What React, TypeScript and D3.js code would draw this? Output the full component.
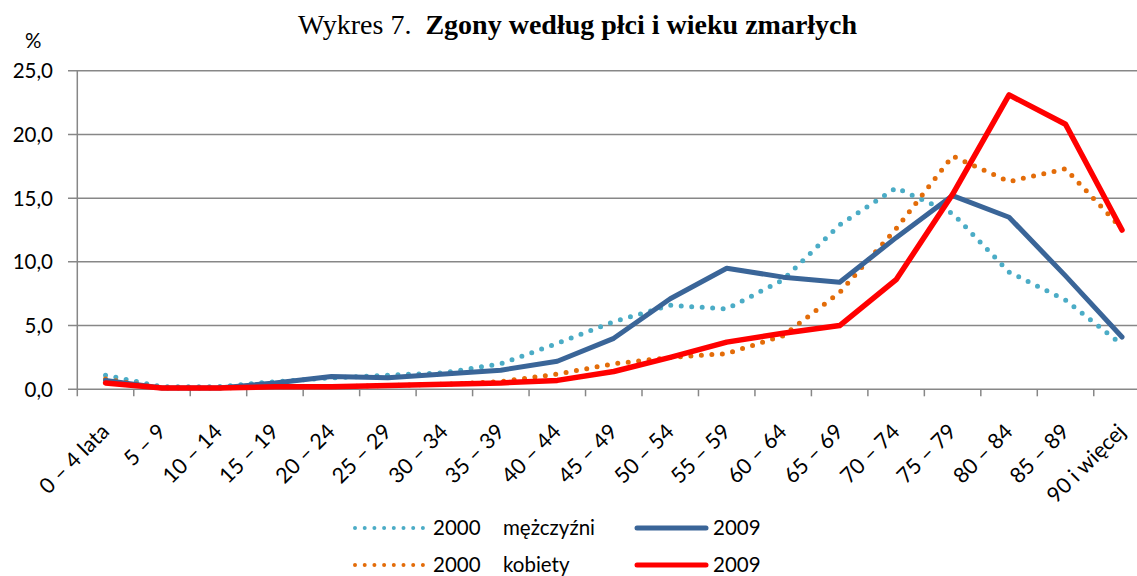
import * as d3 from 'd3';

const categories = [
  '0 – 4 lata', '5 – 9', '10 – 14', '15 – 19', '20 – 24', '25 – 29', '30 – 34',
  '35 – 39', '40 – 44', '45 – 49', '50 – 54', '55 – 59', '60 – 64', '65 – 69',
  '70 – 74', '75 – 79', '80 – 84', '85 – 89', '90 i więcej'
];

// % of deaths, by age group
const men2000 = [1.1, 0.2, 0.2, 0.6, 0.9, 1.1, 1.3, 2.0, 3.6, 5.3, 6.6, 6.3, 8.6, 12.9, 15.8, 13.8, 9.2, 7.0, 3.5];
const women2000 = [0.8, 0.1, 0.1, 0.2, 0.2, 0.3, 0.4, 0.6, 1.2, 2.0, 2.5, 2.8, 4.2, 7.6, 12.6, 18.3, 16.3, 17.3, 12.6];
const men2009 = [0.7, 0.1, 0.1, 0.5, 1.0, 0.9, 1.2, 1.5, 2.2, 4.0, 7.1, 9.5, 8.8, 8.4, 11.9, 15.2, 13.5, 8.9, 4.1];
const women2009 = [0.5, 0.1, 0.1, 0.2, 0.2, 0.3, 0.4, 0.5, 0.7, 1.4, 2.5, 3.7, 4.4, 5.0, 8.6, 15.3, 23.1, 20.8, 12.5];

const yTicks = [0, 5, 10, 15, 20, 25];

const series = [
  { year: '2000', sex: 'mężczyźni', values: men2000, color: '#4BACC6', dotted: true },
  { year: '2000', sex: 'kobiety', values: women2000, color: '#E36C09', dotted: true },
  { year: '2009', sex: '', values: men2009, color: '#3A6598', dotted: false },
  { year: '2009', sex: '', values: women2009, color: '#FF0000', dotted: false }
];

const W = 1137;
const H = 576;
const FONT = "Lato, 'Open Sans', sans-serif";
const FS = 20.5;

export default function App() {
  const left = 77.3;
  const step = 56.47;
  const x = d3.scaleBand<string>().domain(categories).range([left, left + step * categories.length]);
  const y = d3.scaleLinear().domain([0, 25]).range([389.3, 70.7]);
  const cx = (c: string) => (x(c) as number) + x.bandwidth() / 2;
  const fmt = (v: number) => d3.format('.1f')(v).replace('.', ',');

  const line = d3.line<number>()
    .x((_, i) => cx(categories[i]))
    .y(d => y(d));

  const legendItems = [
    { s: series[0], lx: 355, row: 528 },
    { s: series[1], lx: 355, row: 565 },
    { s: series[2], lx: 637, row: 528 },
    { s: series[3], lx: 637, row: 565 }
  ];

  return (
    <div style={{ position: 'absolute', left: 0, top: 0, width: W, height: H, overflow: 'hidden', background: '#fff' }}>
      <svg width={W} height={H} style={{ display: 'block' }}>
        <text x={298} y={34} fontFamily="'Liberation Serif', serif" fontSize={28} fill="#000">
          Wykres 7.
          <tspan dx={14} fontWeight="bold">Zgony według płci i wieku zmarłych</tspan>
        </text>
        <text x={25} y={48} fontFamily={FONT} fontSize={FS} fill="#000">%</text>

        {yTicks.map(t => (
          <g key={t}>
            <line x1={68} x2={W} y1={y(t)} y2={y(t)} stroke="#878787" strokeWidth={1.5} />
            <text x={53} y={y(t)} dy="0.36em" textAnchor="end" fontFamily={FONT} fontSize={FS} fill="#000">
              {fmt(t)}
            </text>
          </g>
        ))}
        <line x1={left} x2={left} y1={y(25)} y2={y(0) + 7} stroke="#878787" strokeWidth={1.5} />
        {categories.map(c => (
          <line key={'t' + c} x1={(x(c) as number) + x.bandwidth()} x2={(x(c) as number) + x.bandwidth()}
            y1={y(0)} y2={y(0) + 7} stroke="#878787" strokeWidth={1.5} />
        ))}
        {categories.map(c => (
          <text key={'l' + c} transform={`translate(${cx(c) + 5},${433}) rotate(-45)`}
            textAnchor="end" fontFamily={FONT} fontSize={21.5} fill="#000">
            {c}
          </text>
        ))}

        {series.map((s, k) => (
          <path key={k} d={line(s.values) || ''} fill="none" stroke={s.color}
            strokeWidth={s.dotted ? 5 : (s.color === '#FF0000' ? 5.5 : 5)}
            strokeDasharray={s.dotted ? '0 10.5' : undefined}
            strokeLinecap="round" strokeLinejoin="round" />
        ))}

        {legendItems.map((it, k) => (
          <g key={k}>
            <line x1={it.lx} x2={it.lx + 69} y1={it.row} y2={it.row} stroke={it.s.color}
              strokeWidth={it.s.dotted ? 4 : 5} strokeDasharray={it.s.dotted ? '0 9.7' : undefined}
              strokeLinecap="round" />
            <text x={it.lx + (it.s.dotted ? 78 : 76)} y={it.row} dy="0.36em"
              fontFamily={FONT} fontSize={FS} fill="#000">
              {it.s.year}
            </text>
            {it.s.sex && (
              <text x={it.lx + 148} y={it.row} dy="0.36em" fontFamily={FONT} fontSize={FS} fill="#000">
                {it.s.sex}
              </text>
            )}
          </g>
        ))}
      </svg>
    </div>
  );
}
